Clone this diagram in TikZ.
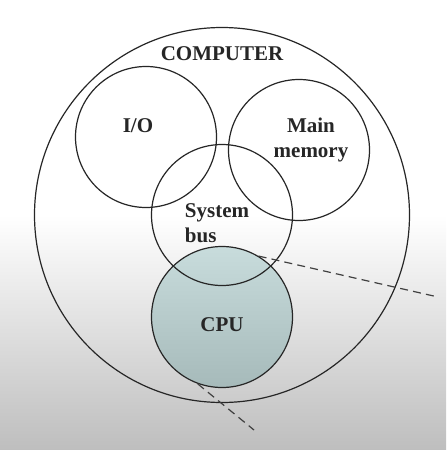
\documentclass[tikz,border=0pt]{standalone}
\usepackage{fontspec}
\setmainfont{Liberation Serif}
\usepackage{tikz}

\definecolor{screengray}{RGB}{190,190,190}
\definecolor{cputop}{RGB}{200,220,220}
\definecolor{cpubottom}{RGB}{166,186,186}

\tikzset{
  part/.style={draw=black!85, line width=0.6pt, circle, inner sep=0pt, minimum size=70.5pt},
  tag/.style={font=\fontsize{10.5}{12.5}\selectfont\bfseries, text=black!85, inner sep=0pt},
  zoomline/.style={draw=black!75, line width=0.6pt, dash pattern=on 4pt off 2.6pt}
}

\begin{document}
\begin{tikzpicture}[x=0.5pt,y=-0.5pt]
        \fill[white] (0,0) rectangle (446,450);
        \shade[top color=white, bottom color=screengray] (0,215) rectangle (446,450);
        \useasboundingbox (0,0) rectangle (446,450);
        \node[part, top color=cputop, bottom color=cpubottom] (cpu) at (222,317) {};
        \node[part, minimum size=187.5pt] (computer) at (222,215) {};
        \node[part] (io) at (146,137) {};
        \node[part] (mem) at (299,150) {};
        \node[part] (bus) at (222,215) {};
        \coordinate (farright) at (438,297);
        \coordinate (farbelow) at (254,430);
        \draw[zoomline] (cpu.59) -- (farright);
        \draw[zoomline] (cpu.250) -- (farbelow);
        \node[tag] (computertext) at (222,54) {COMPUTER};
        \node[tag] (iotext) at (138,126) {I/O};
        \node[tag, align=center] (memtext) at (311,140) {Main\\memory};
        \node[tag, align=left] (bustext) at (217,223) {System\\bus};
        \node[tag] (cputext) at (222,325) {CPU};
\end{tikzpicture}
\end{document}
